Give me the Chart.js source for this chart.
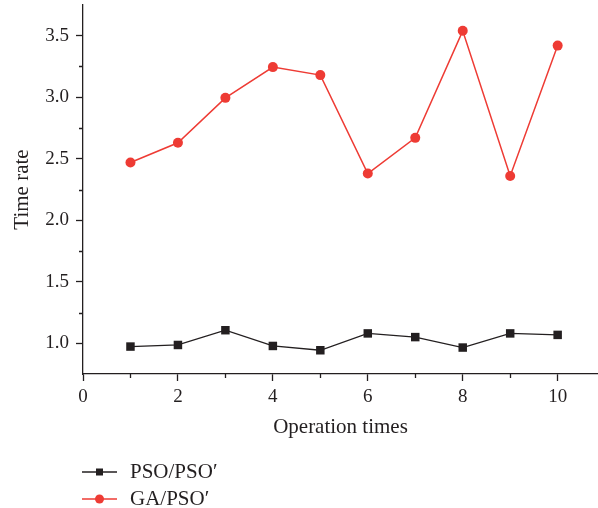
<!DOCTYPE html>
<html>
<head>
<meta charset="utf-8">
<script src="https://cdn.jsdelivr.net/npm/chart.js@4"></script>
<style>
  html, body { margin: 0; padding: 0; background: #fff; }
  #wrap { position: relative; width: 598px; height: 508px; }
  #legend { position: absolute; left: 82px; top: 458px; font: 21px "Liberation Serif", "Times New Roman", serif; color: #231f20; }
  .row { display: flex; align-items: center; height: 27px; }
  .row svg { margin-right: 13px; }
</style>
</head>
<body>
<div id="wrap">
  <canvas id="c" width="598" height="508"></canvas>
  <div id="legend">
    <div class="row">
      <svg width="35" height="14"><line x1="0" y1="7" x2="35" y2="7" stroke="#231f20" stroke-width="1.3"/><rect x="14" y="3.5" width="7" height="7" fill="#231f20"/></svg>
      <span>PSO/PSO′</span>
    </div>
    <div class="row">
      <svg width="35" height="14"><line x1="0" y1="7" x2="35" y2="7" stroke="#ee3b34" stroke-width="1.5"/><circle cx="17.5" cy="7" r="4.5" fill="#ee3b34"/></svg>
      <span>GA/PSO′</span>
    </div>
  </div>
</div>
<script>
// ── Datos ────────────────────────────────────────────────────────────────
const runs     = [1, 2, 3, 4, 5, 6, 7, 8, 9, 10];
const psoPso   = [0.973, 0.986, 1.106, 0.978, 0.943, 1.080, 1.050, 0.965, 1.080, 1.068];
const gaPso    = [2.47, 2.63, 2.995, 3.245, 3.18, 2.38, 2.67, 3.54, 2.36, 3.42];
const xTicks   = [0, 2, 4, 6, 8, 10];
const xMinor   = [1, 3, 5, 7, 9];
const yTicks   = [1.0, 1.5, 2.0, 2.5, 3.0, 3.5];
const yMinor   = [1.25, 1.75, 2.25, 2.75, 3.25];

const INK   = '#231f20';
const RED   = '#ee3b34';
const SERIF = '"Liberation Serif", "Times New Roman", serif';
const TICKF = { family: SERIF, size: 19 };
const TITLF = { family: SERIF, size: 21 };

// ── Ticks menores ─────────────────────────────────────────────────────────
const minorTicks = {
  id: 'minorTicks',
  afterDraw(chart) {
    const { ctx, scales: { x, y } } = chart;
    ctx.save();
    ctx.strokeStyle = INK;
    ctx.lineWidth = 1.3;
    ctx.beginPath();
    xMinor.forEach(v => {
      const px = Math.round(x.getPixelForValue(v)) + 0.5;
      ctx.moveTo(px, x.top); ctx.lineTo(px, x.top + 4);
    });
    yMinor.forEach(v => {
      const py = Math.round(y.getPixelForValue(v)) + 0.5;
      ctx.moveTo(y.right, py); ctx.lineTo(y.right - 4, py);
    });
    ctx.stroke();
    ctx.restore();
  }
};

new Chart(document.getElementById('c'), {
  type: 'scatter',
  data: {
    datasets: [
      {
        label: 'PSO/PSO′',
        data: runs.map((r, i) => ({ x: r, y: psoPso[i] })),
        showLine: true, borderColor: INK, backgroundColor: INK, borderWidth: 1.3,
        pointStyle: 'rect', pointRadius: 6, pointBorderWidth: 0,
      },
      {
        label: 'GA/PSO′',
        data: runs.map((r, i) => ({ x: r, y: gaPso[i] })),
        showLine: true, borderColor: RED, backgroundColor: RED, borderWidth: 1.5,
        pointStyle: 'circle', pointRadius: 5, pointBorderWidth: 0,
      },
    ],
  },
  options: {
    responsive: false,
    animation: false,
    layout: { autoPadding: false, padding: { top: 5, right: 0, left: 0, bottom: 64 } },
    plugins: { legend: { display: false }, tooltip: { enabled: false } },
    scales: {
      x: {
        type: 'linear', min: 0, max: 10.85,
        afterBuildTicks: s => { s.ticks = xTicks.map(v => ({ value: v })); },
        afterFit: s => { s.height = 70; s.paddingLeft = 0; s.paddingRight = 0; },
        grid: { drawOnChartArea: false, tickLength: 7, color: INK, tickWidth: 1.3 },
        border: { color: INK, width: 1.3 },
        ticks: { color: INK, font: TICKF, padding: 5, callback: v => v },
        title: { display: true, text: 'Operation times', color: INK, font: TITLF, padding: { top: 8 } },
      },
      y: {
        type: 'linear', min: 0.75, max: 3.75,
        afterBuildTicks: s => { s.ticks = yTicks.map(v => ({ value: v })); },
        afterFit: s => { s.width = 83; s.paddingTop = 0; s.paddingBottom = 0; },
        grid: { drawOnChartArea: false, tickLength: 7, color: INK, tickWidth: 1.3 },
        border: { color: INK, width: 1.3 },
        ticks: { color: INK, font: TICKF, padding: 7, callback: v => v.toFixed(1) },
        title: { display: true, text: 'Time rate', color: INK, font: TITLF, padding: { top: 10 } },
      },
    },
  },
  plugins: [minorTicks],
});
</script>
</body>
</html>
